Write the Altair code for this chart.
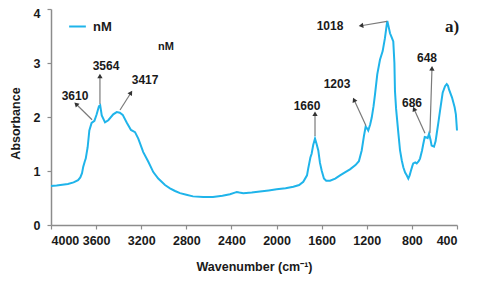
import math
import altair as alt
import pandas as pd

# FTIR spectrum
wn = [4000, 3950, 3900, 3850, 3800, 3760, 3740, 3725, 3714, 3700, 3692, 3675, 3660, 3640, 3615,
      3595, 3575, 3564, 3550, 3521, 3492, 3448, 3417, 3390, 3364, 3329, 3291, 3255, 3226, 3182,
      3137, 3093, 3049, 2989, 2945, 2900, 2856, 2800, 2741, 2650, 2564, 2480, 2413, 2370, 2353,
      2330, 2295, 2220, 2147, 2070, 1999, 1920, 1851, 1800, 1763, 1730, 1719, 1700, 1689, 1675,
      1659, 1645, 1630, 1615, 1600, 1580, 1560, 1526, 1480, 1437, 1390, 1349, 1300, 1270, 1245,
      1225, 1210, 1195, 1187, 1170, 1156, 1140, 1127, 1107, 1083, 1059, 1039, 1025, 1018, 1005,
      994, 980, 965, 955, 950, 940, 920, 905, 890, 876, 860, 846, 832, 820, 808, 795, 788, 770,
      757, 740, 728, 710, 699, 686, 670, 660, 648, 635, 625, 604, 590, 580, 565, 551, 527, 506,
      491, 480, 471, 444, 421, 410, 400]
absorb = [0.72, 0.73, 0.745, 0.76, 0.79, 0.83, 0.88, 0.96, 1.08, 1.18, 1.23, 1.44, 1.75, 1.89, 1.93,
          2.05, 2.20, 2.22, 2.03, 1.90, 1.94, 2.05, 2.09, 2.08, 2.04, 1.90, 1.76, 1.72, 1.60, 1.35,
          1.17, 0.98, 0.86, 0.74, 0.68, 0.63, 0.59, 0.56, 0.53, 0.52, 0.52, 0.54, 0.57, 0.60, 0.61,
          0.60, 0.59, 0.60, 0.62, 0.64, 0.66, 0.68, 0.71, 0.74, 0.80, 0.92, 1.05, 1.25, 1.32, 1.48,
          1.60, 1.50, 1.38, 1.15, 1.01, 0.86, 0.82, 0.82, 0.86, 0.92, 0.98, 1.03, 1.11, 1.18, 1.38,
          1.65, 1.82, 1.78, 1.75, 1.86, 1.99, 2.20, 2.42, 2.79, 3.06, 3.22, 3.46, 3.68, 3.78, 3.66,
          3.55, 3.48, 3.40, 3.00, 2.48, 2.15, 1.70, 1.38, 1.20, 1.07, 0.97, 0.92, 0.86, 0.92, 1.01,
          1.10, 1.14, 1.16, 1.14, 1.18, 1.23, 1.38, 1.50, 1.63, 1.62, 1.61, 1.69, 1.58, 1.47, 1.45,
          1.55, 1.69, 1.90, 2.11, 2.45, 2.57, 2.61, 2.58, 2.51, 2.36, 2.18, 2.05, 1.75]

# peak annotations
lab_text = ["3610", "3564", "3417", "1660", "1203", "1018", "686", "648"]
lab_x = [3787, 3512, 3166, 1730, 1464, 1526, 799, 666]
lab_y = [2.39, 2.94, 2.68, 2.21, 2.61, 3.69, 2.26, 3.09]
arr_x1 = [3636, 3566, 3388, 1659, 1207, 1021, 684, 640]
arr_y1 = [1.95, 2.24, 2.13, 1.65, 1.84, 3.77, 1.70, 1.70]
arr_x2 = [3778, 3566, 3291, 1659, 1313, 1251, 781, 622]
arr_y2 = [2.24, 2.76, 2.45, 2.06, 2.32, 3.69, 2.15, 2.90]

notes_text = ["nM"]
notes_x = [2980]
notes_y = [3.29]
panel_text = ["a)"]
panel_x = [444]
panel_y = [3.66]

x_ticks = [4000, 3600, 3200, 2800, 2400, 2000, 1600, 1200, 800, 400]
y_ticks = [0, 1, 2, 3, 4]

W, H = 406, 216
LINE = "#1fb4ea"
TXT = "#1a1a1a"
FONT = "Liberation Sans"

spec = pd.DataFrame({"wn": wn, "abs": absorb, "s": "nM"})

# arrowhead rotation computed in pixel space
kx, ky = W / 3600.0, H / 4.0
angs = []
for a, b, c, d in zip(arr_x1, arr_y1, arr_x2, arr_y2):
    dx = -(c - a) * kx
    dy = -(d - b) * ky
    angs.append((math.degrees(math.atan2(dx, -dy)) + 360) % 360)

ann = pd.DataFrame({"t": lab_text, "lx": lab_x, "ly": lab_y,
                    "x1": arr_x1, "y1": arr_y1, "x2": arr_x2, "y2": arr_y2, "ang": angs})
notes = pd.DataFrame({"t": notes_text, "x": notes_x, "y": notes_y})
panel = pd.DataFrame({"t": panel_text, "x": panel_x, "y": panel_y})

xs = alt.Scale(domain=[400, 4000], reverse=True, nice=False, zero=False)
ys = alt.Scale(domain=[0, 4], nice=False)

xax = alt.Axis(values=x_ticks, title="Wavenumber (cm\u207b\u00b9)", grid=False, format="d",
               titleY=41, titleBaseline="middle")
yax = alt.Axis(values=y_ticks, title="Absorbance", grid=False, format="d",
               titleX=-36, titleY=114, titleAngle=270, titleAlign="center", titleBaseline="middle",
               labelOffset=alt.condition("datum.value == 4", alt.value(4), alt.value(0)))

line = alt.Chart(spec).mark_line(strokeWidth=2).encode(
    x=alt.X("wn:Q", scale=xs, axis=xax),
    y=alt.Y("abs:Q", scale=ys, axis=yax),
    color=alt.Color("s:N", scale=alt.Scale(domain=["nM"], range=[LINE]),
                    legend=alt.Legend(orient="none", legendX=17, legendY=8, title=None,
                                      symbolType="stroke", symbolSize=280, symbolStrokeWidth=2,
                                      labelFont=FONT, labelFontSize=13, labelFontWeight="bold",
                                      labelColor=TXT, padding=0, labelOffset=6)),
    order=alt.value(0),
)

rules = alt.Chart(ann).mark_rule(color="#7a7a7a", strokeWidth=1.2).encode(
    x=alt.X("x1:Q", scale=xs), y=alt.Y("y1:Q", scale=ys),
    x2="x2:Q", y2="y2:Q",
)

heads = alt.Chart(ann).mark_point(shape="triangle-up", filled=True, size=28,
                                  color="#333333", opacity=1).encode(
    x=alt.X("x2:Q", scale=xs), y=alt.Y("y2:Q", scale=ys),
    angle=alt.Angle("ang:Q", scale=None),
)

labels = alt.Chart(ann).mark_text(font=FONT, fontSize=12, fontWeight="bold", color=TXT).encode(
    x=alt.X("lx:Q", scale=xs), y=alt.Y("ly:Q", scale=ys), text="t:N",
)

note = alt.Chart(notes).mark_text(font=FONT, fontSize=11, fontWeight="bold", color=TXT).encode(
    x=alt.X("x:Q", scale=xs), y=alt.Y("y:Q", scale=ys), text="t:N",
)

pan = alt.Chart(panel).mark_text(font="Liberation Serif", fontSize=17, fontWeight="bold",
                                 color=TXT).encode(
    x=alt.X("x:Q", scale=xs), y=alt.Y("y:Q", scale=ys), text="t:N",
)

chart = alt.layer(line, rules, heads, labels, note, pan).properties(
    width=W, height=H,
    autosize=alt.AutoSizeParams(type="none"),
    padding={"left": 43, "top": 1, "right": 15, "bottom": 60},
).configure_view(stroke=None).configure_axis(
    domainColor="#8c8c8c", domainWidth=1.5, tickColor="#8c8c8c", tickWidth=1.2, tickSize=4,
    labelFont=FONT, labelFontSize=12.5, labelFontWeight="bold", labelColor=TXT,
    titleFont=FONT, titleFontSize=12.5, titleFontWeight="bold", titleColor=TXT,
).configure_axisX(labelPadding=5).configure_axisY(labelPadding=7)

chart.save("out.html", embed_options={"renderer": "svg", "actions": False})
